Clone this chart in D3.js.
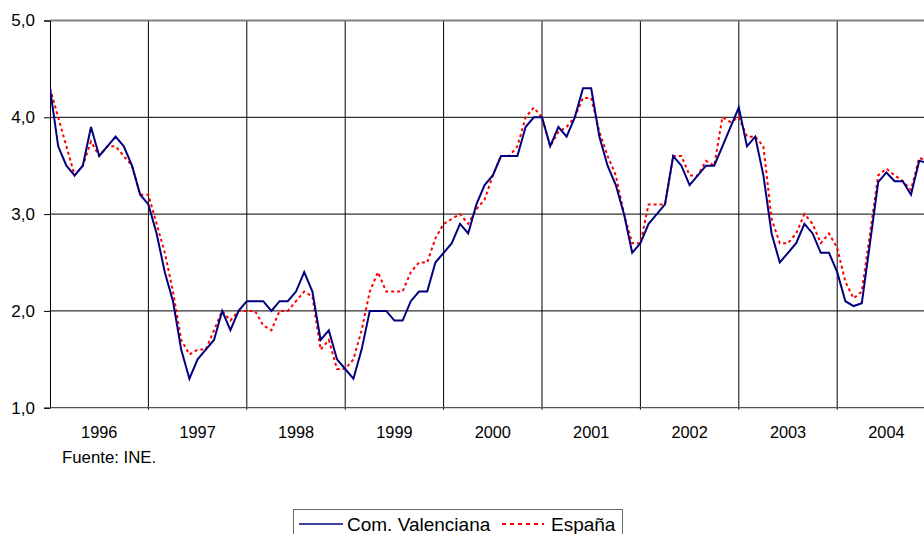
<!DOCTYPE html>
<html>
<head>
<meta charset="utf-8">
<script src="https://cdn.jsdelivr.net/npm/d3@7"></script>
<style>
  body { margin: 0; background: #fff; }
  svg { display: block; font-family: Arial, "Liberation Sans", sans-serif; }
</style>
</head>
<body>
<svg id="chart" width="924" height="534"></svg>
<script>
const years = ["1996","1997","1998","1999","2000","2001","2002","2003","2004"];
const yTicks = [1, 2, 3, 4, 5];
const seriesNames = ["Com. Valenciana", "España"];
const comValenciana = [
  4.3,3.7,3.5,3.4,3.5,3.9,3.6,3.7,3.8,3.7,3.5,3.2,
  3.1,2.8,2.4,2.1,1.6,1.3,1.5,1.6,1.7,2.0,1.8,2.0,
  2.1,2.1,2.1,2.0,2.1,2.1,2.2,2.4,2.2,1.7,1.8,1.5,
  1.4,1.3,1.6,2.0,2.0,2.0,1.9,1.9,2.1,2.2,2.2,2.5,
  2.6,2.7,2.9,2.8,3.1,3.3,3.4,3.6,3.6,3.6,3.9,4.0,
  4.0,3.7,3.9,3.8,4.0,4.3,4.3,3.8,3.5,3.3,3.0,2.6,
  2.7,2.9,3.0,3.1,3.6,3.5,3.3,3.4,3.5,3.5,3.7,3.9,
  4.1,3.7,3.8,3.4,2.8,2.5,2.6,2.7,2.9,2.8,2.6,2.6,
  2.4,2.1,2.05,2.08,2.7,3.33,3.43,3.34,3.34,3.2,3.55,3.53
];
const espana = [
  4.3,4.0,3.7,3.4,3.5,3.75,3.6,3.7,3.7,3.6,3.5,3.2,
  3.2,2.9,2.6,2.2,1.7,1.55,1.6,1.6,1.8,2.0,1.9,2.0,
  2.0,2.0,1.85,1.8,2.0,2.0,2.1,2.2,2.15,1.6,1.7,1.4,
  1.4,1.5,1.8,2.2,2.4,2.2,2.2,2.2,2.4,2.5,2.5,2.75,
  2.9,2.95,3.0,2.9,3.05,3.15,3.4,3.6,3.6,3.7,4.0,4.1,
  4.0,3.7,3.85,3.9,4.0,4.2,4.2,3.85,3.6,3.4,3.0,2.7,
  2.7,3.1,3.1,3.1,3.6,3.6,3.4,3.4,3.55,3.5,4.0,3.95,
  4.0,3.8,3.8,3.7,2.95,2.7,2.7,2.8,3.0,2.9,2.7,2.8,
  2.65,2.3,2.13,2.2,2.8,3.4,3.47,3.4,3.34,3.25,3.58,3.55
];

const svg = d3.select("#chart");
const mLeft = 50, mTop = 20.5, mBottom = 407.7;
const monthW = 98.4 / 12;
const x = d3.scaleLinear().domain([0, 108]).range([mLeft, mLeft + 108 * monthW]);
const y = d3.scaleLinear().domain([1, 5]).range([mBottom, mTop]);
const fmt = v => d3.format(".1f")(v).replace(".", ",");

const plot = svg.append("g");

// horizontal gridlines
plot.selectAll("line.hg").data(yTicks.filter(v => v > 1 && v < 5)).join("line")
  .attr("x1", mLeft).attr("x2", 924)
  .attr("y1", d => y(d)).attr("y2", d => y(d))
  .attr("stroke", "#000").attr("stroke-width", 1);

// vertical year gridlines
plot.selectAll("line.vg").data(d3.range(1, years.length)).join("line")
  .attr("x1", d => x(d * 12)).attr("x2", d => x(d * 12))
  .attr("y1", mTop).attr("y2", mBottom + 2)
  .attr("stroke", "#000").attr("stroke-width", 1);

// top border
plot.append("line").attr("x1", mLeft).attr("x2", 924)
  .attr("y1", y(5)).attr("y2", y(5))
  .attr("stroke", "#808080").attr("stroke-width", 2);
// bottom axis
plot.append("line").attr("x1", mLeft).attr("x2", 924)
  .attr("y1", y(1)).attr("y2", y(1))
  .attr("stroke", "#555").attr("stroke-width", 1.2);

// y axis
const yAxis = d3.axisLeft(y).tickValues(yTicks).tickFormat(fmt).tickSize(6).tickPadding(9);
const ya = svg.append("g").attr("transform", `translate(${mLeft},0)`).call(yAxis);
ya.select(".domain").attr("stroke", "#000").attr("stroke-width", 1);
ya.selectAll(".tick line").attr("stroke", "#000");
ya.selectAll("text").attr("font-size", 17).attr("fill", "#000")
  .attr("font-family", "Arial, 'Liberation Sans', sans-serif");

// x labels (years)
svg.append("g").selectAll("text").data(years).join("text")
  .attr("x", (d, i) => x(i * 12 + 6)).attr("y", 438)
  .attr("text-anchor", "middle").attr("font-size", 16.3).attr("fill", "#000")
  .text(d => d);

// lines
svg.append("clipPath").attr("id", "pc").append("rect")
  .attr("x", mLeft).attr("y", 0).attr("width", 924 - mLeft).attr("height", mBottom + 5);
const line = d3.line().x((d, i) => x(i)).y(d => y(d));
const lines = svg.append("g").attr("clip-path", "url(#pc)");
lines.append("path").datum(espana).attr("d", line)
  .attr("fill", "none").attr("stroke", "#FF0000").attr("stroke-width", 2)
  .attr("stroke-dasharray", "3,3");
lines.append("path").datum(comValenciana).attr("d", line)
  .attr("fill", "none").attr("stroke", "#000080").attr("stroke-width", 2);

// source
svg.append("text").attr("x", 62).attr("y", 463).attr("font-size", 16.8)
  .attr("fill", "#000").text("Fuente: INE.");

// legend
const lg = svg.append("g");
lg.append("rect").attr("x", 293.5).attr("y", 509.5).attr("width", 329).attr("height", 30)
  .attr("fill", "#fff").attr("stroke", "#666").attr("stroke-width", 1);
lg.append("line").attr("x1", 299).attr("x2", 343).attr("y1", 524).attr("y2", 524)
  .attr("stroke", "#000080").attr("stroke-width", 1.5);
lg.append("text").attr("x", 347).attr("y", 531).attr("font-size", 19).attr("fill", "#000")
  .text(seriesNames[0]);
lg.append("line").attr("x1", 502).attr("x2", 544).attr("y1", 524).attr("y2", 524)
  .attr("stroke", "#FF0000").attr("stroke-width", 2).attr("stroke-dasharray", "4,4");
lg.append("text").attr("x", 551).attr("y", 531).attr("font-size", 19).attr("fill", "#000")
  .text(seriesNames[1]);
</script>
</body>
</html>
